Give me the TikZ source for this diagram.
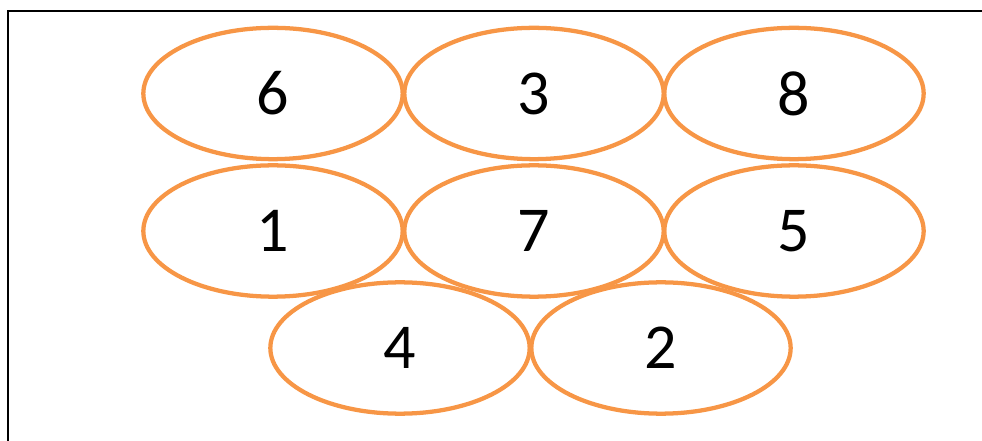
\documentclass[tikz,border=0pt]{standalone}
\usepackage{fontspec}
\setmainfont{Carlito}
\usetikzlibrary{shapes.geometric}
\definecolor{ovalorange}{HTML}{F79646}
\begin{document}
\begin{tikzpicture}[x=0.75pt,y=-0.75pt,
  oval/.style={ellipse,draw=ovalorange,line width=3.2pt,minimum width=194.5pt,minimum height=98.5pt,inner sep=0pt,font=\fontsize{48}{48}\selectfont,text=black}]
\useasboundingbox (0,0) rectangle (982,441);
\draw[line width=1.5pt,black] (7.5,445) -- (7.5,11) -- (990,11);
\node[oval] (n6) at (273,93.5) {6};
\node[oval] (n3) at (534,93.5) {3};
\node[oval] (n8) at (794,93.5) {8};
\node[oval] (n1) at (273,231) {1};
\node[oval] (n7) at (534,231) {7};
\node[oval] (n5) at (794,231) {5};
\node[oval] (n4) at (400,348) {4};
\node[oval] (n2) at (661,348) {2};
\end{tikzpicture}
\end{document}
